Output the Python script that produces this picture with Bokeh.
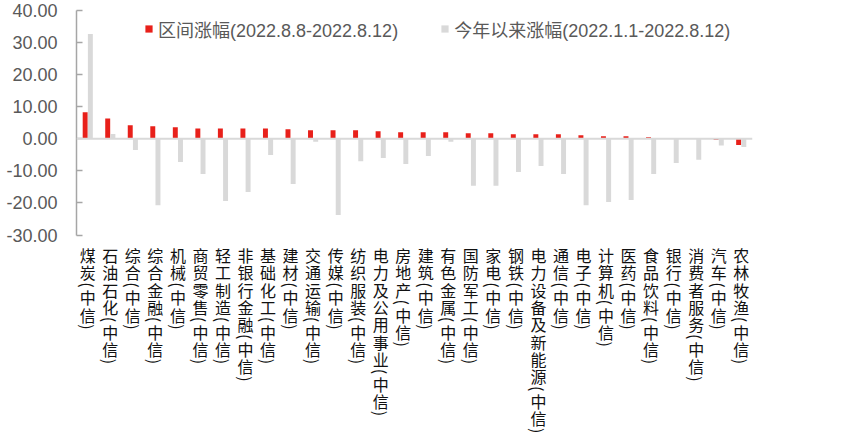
import math
from bokeh.plotting import figure
from bokeh.models import (ColumnDataSource, FactorRange, Range1d, FixedTicker,
                          PrintfTickFormatter, Span, Legend, LegendItem)
from bokeh.transform import dodge
from bokeh.core.properties import value
from bokeh.embed import file_html
from bokeh.resources import INLINE

# ---------------- data ----------------
categories = [
    "煤炭(中信)", "石油石化(中信)", "综合(中信)", "综合金融(中信)", "机械(中信)",
    "商贸零售(中信)", "轻工制造(中信)", "非银行金融(中信)", "基础化工(中信)", "建材(中信)",
    "交通运输(中信)", "传媒(中信)", "纺织服装(中信)", "电力及公用事业(中信)", "房地产(中信)",
    "建筑(中信)", "有色金属(中信)", "国防军工(中信)", "家电(中信)", "钢铁(中信)",
    "电力设备及新能源(中信)", "通信(中信)", "电子(中信)", "计算机(中信)", "医药(中信)",
    "食品饮料(中信)", "银行(中信)", "消费者服务(中信)", "汽车(中信)", "农林牧渔(中信)",
]
weekly_change = [8.2, 6.3, 4.15, 3.85, 3.55, 3.2, 3.2, 3.2, 3.2, 2.9,
                 2.6, 2.6, 2.6, 2.3, 2.0, 2.0, 2.0, 1.7, 1.7, 1.35,
                 1.35, 1.35, 1.05, 0.75, 0.75, 0.4, 0.1, 0.05, -0.45, -2.0]
ytd_change = [32.6, 1.45, -3.5, -20.7, -7.3, -11.0, -19.4, -16.6, -5.1, -14.1,
              -1.0, -23.8, -7.0, -6.0, -7.9, -5.4, -1.0, -14.7, -14.7, -10.4,
              -8.5, -11.0, -20.7, -19.7, -19.1, -11.0, -7.6, -6.6, -2.1, -2.6]
y_ticks = [-30, -20, -10, 0, 10, 20, 30, 40]
legend_labels = ["区间涨幅(2022.8.8-2022.8.12)", "今年以来涨幅(2022.1.1-2022.8.12)"]

# ---------------- layout ----------------
W, H = 850, 439
LEFT, RIGHT = 76, 98
TOP_PX, BOT_PX = 9.7, 234.5          # canvas rows of the top / bottom tick
scale = (BOT_PX - TOP_PX) / (y_ticks[-1] - y_ticks[0])
y_end = y_ticks[-1] + TOP_PX / scale
y_start = y_end - H / scale

p = figure(width=W, height=H,
           x_range=FactorRange(factors=categories, range_padding=0),
           y_range=Range1d(y_start, y_end),
           x_axis_location=None, toolbar_location=None, output_backend="svg",
           min_border_left=LEFT, min_border_right=RIGHT,
           min_border_top=0, min_border_bottom=0)
p.outline_line_color = None
p.grid.visible = False
p.background_fill_color = "white"
p.border_fill_color = "white"

src = ColumnDataSource(dict(cat=categories, wk=weekly_change, ytd=ytd_change))
r1 = p.vbar(x=dodge("cat", -0.115, range=p.x_range), top="wk", bottom=0, width=0.22,
            source=src, fill_color="#E8201A", line_color=None)
r2 = p.vbar(x=dodge("cat", 0.115, range=p.x_range), top="ytd", bottom=0, width=0.22,
            source=src, fill_color="#D9D9D9", line_color=None)

p.add_layout(Span(location=0, dimension="width", line_color="#D9D9D9", line_width=2))

ax = p.yaxis[0]
ax.ticker = FixedTicker(ticks=y_ticks)
ax.formatter = PrintfTickFormatter(format="%.2f")
ax.bounds = (y_ticks[0], y_ticks[-1])
ax.axis_line_color = "#A6A6A6"
ax.axis_line_width = 1.5
ax.major_tick_line_color = "#A6A6A6"
ax.major_tick_line_width = 1.5
ax.major_tick_in = 6
ax.major_tick_out = 0
ax.minor_tick_line_color = None
ax.major_label_text_font = "Liberation Sans"
ax.major_label_text_font_size = "18px"
ax.major_label_text_color = "#595959"
ax.major_label_standoff = 19

# stacked (vertical) category labels, one glyph per character
lx, ly, lyo, lt, la = [], [], [], [], []
for c in categories:
    cursor = 11.5
    for ch in c:
        paren = ch in "()"
        pitch = 7.5 if paren else 17.3
        lx.append(c)
        ly.append(y_ticks[0])
        lyo.append(cursor + pitch / 2)
        lt.append(ch)
        la.append(-math.pi / 2 if paren else 0.0)
        cursor += pitch
lsrc = ColumnDataSource(dict(x=lx, y=ly, yo=lyo, t=lt, a=la))
p.text(x="x", y="y", text="t", angle="a", y_offset="yo", source=lsrc,
       text_align="center", text_baseline="middle",
       text_font=value("Noto Sans CJK SC"), text_font_size="16px", text_color="#111111")

legend = Legend(items=[LegendItem(label=legend_labels[0], renderers=[r1]),
                       LegendItem(label=legend_labels[1], renderers=[r2])],
                orientation="horizontal", location=(68, 397.5),
                glyph_width=9, glyph_height=9, label_standoff=5, spacing=42,
                padding=0, margin=0, border_line_color=None,
                background_fill_alpha=0,
                label_text_font="Liberation Sans, Noto Sans CJK SC",
                label_text_font_size="18px", label_text_color="#595959")
p.add_layout(legend)

open("out.html", "w").write(file_html(p, INLINE))
